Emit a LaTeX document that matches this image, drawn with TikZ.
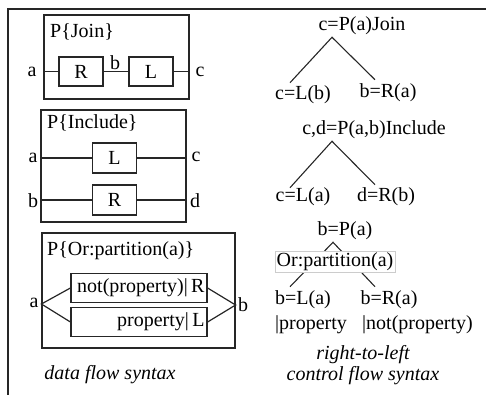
\documentclass[tikz,border=0pt]{standalone}
\usepackage{fontspec}
\setmainfont{Liberation Serif}
\usetikzlibrary{positioning}

\begin{document}
\begin{tikzpicture}[
    x=1pt, y=-1pt,
    every node/.style={inner sep=0pt, font=\fontsize{20}{22}\selectfont},
    frame/.style={line width=1.8pt, draw=black!85},
    group/.style={rectangle, draw=black!85, line width=1.2pt},
    block/.style={rectangle, draw=black!85, line width=1.2pt, minimum width=44pt, minimum height=29pt},
    choice/.style={rectangle, draw=black!85, line width=1.2pt, minimum width=136pt, minimum height=29pt, text width=131pt, align=right},
    wire/.style={line width=1.2pt, draw=black!85},
    branch/.style={line width=1.1pt, draw=black!85},
    caption/.style={font=\fontsize{20}{22}\selectfont\itshape}
]
\useasboundingbox (0,0) rectangle (486,395);

% ==== Frame ====
\draw[frame] (8,395) -- (8,9) -- (486,9);

% ==== Data flow: Join ====
\node[group, minimum width=145pt, minimum height=84pt] (joinbox) at (116.5,57) {};
\node[anchor=west] (joinname) at (50,32) {P\{Join\}};
\node[block] (jR) at (81,71.5) {R};
\node[block] (jL) at (151,71.5) {L};
\node (ja) at (32,71.5) {a};
\node (jb) at (115,62.5) {b};
\node (jc) at (200,71.5) {c};
\draw[wire] (joinbox.west |- jR) -- (jR.west);
\draw[wire] (jR.east) -- (jL.west);
\draw[wire] (jL.east) -- (joinbox.east |- jL);

% ==== Data flow: Include ====
\node[group, minimum width=145pt, minimum height=112pt] (incbox) at (113.5,166) {};
\node[anchor=west] (incname) at (47,123) {P\{Include\}};
\node[block, minimum height=30pt] (iL) at (114.5,158) {L};
\node[block, minimum height=30pt] (iR) at (114.5,200) {R};
\node (ia) at (33,158) {a};
\node (ib) at (33,200.5) {b};
\node (ic) at (196,157) {c};
\node (id) at (195,200.5) {d};
\draw[wire] (incbox.west |- iL) -- (iL.west);
\draw[wire] (iL.east) -- (incbox.east |- iL);
\draw[wire] (incbox.west |- iR) -- (iR.west);
\draw[wire] (iR.east) -- (incbox.east |- iR);

% ==== Data flow: Or ====
\node[group, minimum width=193pt, minimum height=115pt] (orbox) at (138.5,290.5) {};
\node[anchor=west] (orname) at (47,251) {P\{Or:partition(a)\}};
\node[choice] (orR) at (139,288) {not(property)|\,R};
\node[choice] (orL) at (139,322) {property|\,L};
\coordinate (ora) at ([yshift=-13.5pt]orbox.west);
\coordinate (orb) at ([yshift=-14.5pt]orbox.east);
\node (oa) at (34,303) {a};
\node (ob) at (243,305) {b};
\draw[wire] (orR.west) -- (ora) -- (orL.west);
\draw[wire] (orR.east) -- (orb) -- (orL.east);

\node[caption] (dfs) at (110,375) {data flow syntax};

% ==== Control flow: Join ====
\node (pjoin) at (362,26) {c=P(a)Join};
\coordinate (jtop) at ([xshift=-30pt,yshift=-2pt]pjoin.south);
\node (cjl) at (303,95) {c=L(b)};
\node (cjr) at (388,93) {b=R(a)};
\draw[branch] ([xshift=-13pt,yshift=3pt]cjl.north) -- (jtop) -- ([xshift=-13pt,yshift=4pt]cjr.north);

% ==== Control flow: Include ====
\node (pinc) at (374,130) {c,d=P(a,b)Include};
\coordinate (itop) at ([xshift=-42pt,yshift=-2pt]pinc.south);
\node (cil) at (303,197) {c=L(a)};
\node (cir) at (386,197) {d=R(b)};
\draw[branch] ([xshift=-13pt]cil.north) -- (itop) -- ([xshift=-11pt,yshift=3pt]cir.north);

% ==== Control flow: Or ====
\node (por) at (345,231) {b=P(a)};
\coordinate (otop) at ([xshift=-12pt,yshift=-2pt]por.south);
\node (col) at (303,300) {b=L(a)};
\node (cor) at (389,300) {b=R(a)};
\draw[branch] ([xshift=-13pt,yshift=4pt]col.north) -- (otop) -- ([xshift=-14pt,yshift=4pt]cor.north);
\node[draw=black!20, fill=white, inner sep=1.5pt, line width=0.6pt] (orpart) at (335,262) {Or:partition(a)};
\node[anchor=west] (colp) at (275,325) {|property};
\node[anchor=west] (corp) at (362,325) {|not(property)};

\node[caption] (rtl) at (363,355) {right-to-left};
\node[caption, below=2pt of rtl] (cfs) {control flow syntax};

\end{tikzpicture}
\end{document}
